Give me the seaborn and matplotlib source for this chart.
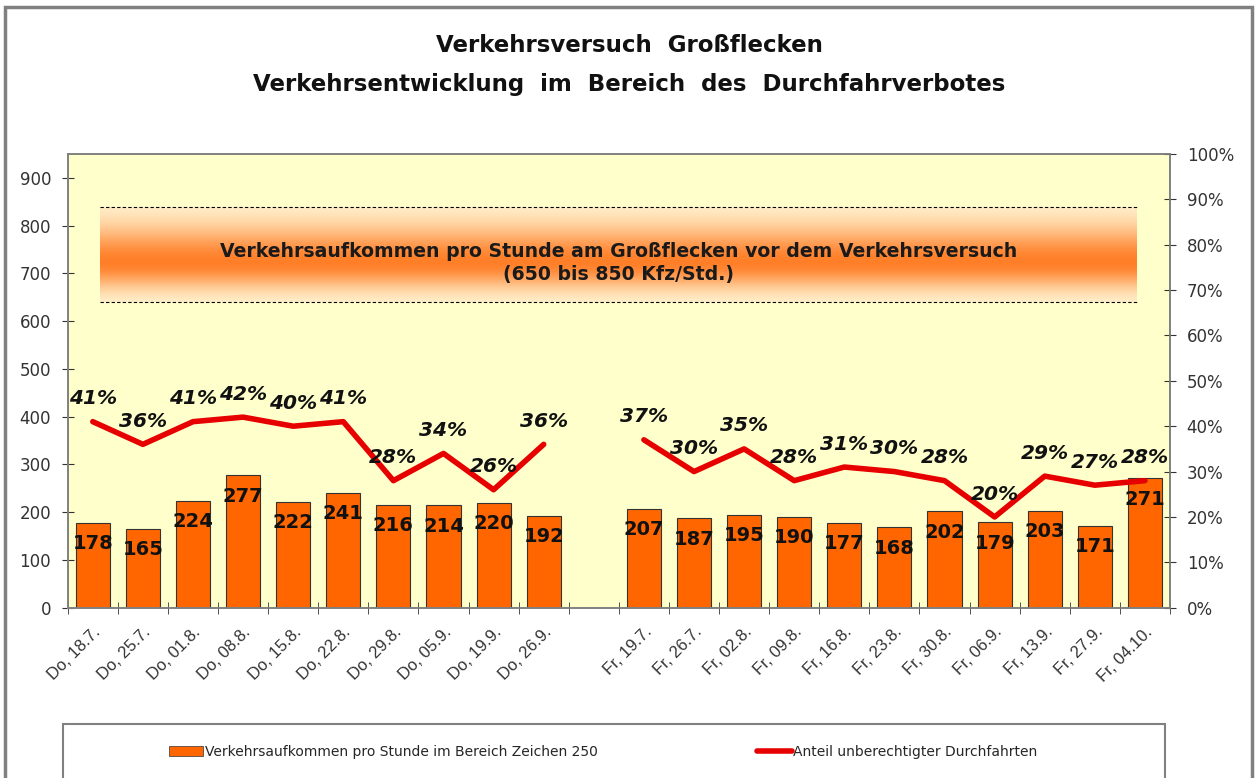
import numpy as np
import pandas as pd
import matplotlib
matplotlib.use("Agg")
import matplotlib.pyplot as plt
import seaborn as sns
from matplotlib.patches import Rectangle, Patch
from matplotlib.lines import Line2D
from matplotlib.ticker import PercentFormatter, FixedLocator, NullFormatter

# Donnerstage
dates_do = ["Do, 18.7.", "Do, 25.7.", "Do, 01.8.", "Do, 08.8.", "Do, 15.8.",
            "Do, 22.8.", "Do, 29.8.", "Do, 05.9.", "Do, 19.9.", "Do, 26.9."]
volume_do = [178, 165, 224, 277, 222, 241, 216, 214, 220, 192]
share_do = [41, 36, 41, 42, 40, 41, 28, 34, 26, 36]

# Freitage
dates_fr = ["Fr, 19.7.", "Fr, 26.7.", "Fr, 02.8.", "Fr, 09.8.", "Fr, 16.8.", "Fr, 23.8.",
            "Fr, 30.8.", "Fr, 06.9.", "Fr, 13.9.", "Fr, 27.9.", "Fr, 04.10."]
volume_fr = [207, 187, 195, 190, 177, 168, 202, 179, 203, 171, 271]
share_fr = [37, 30, 35, 28, 31, 30, 28, 20, 29, 27, 28]

# Band "vor dem Verkehrsversuch" (as drawn in the chart)
band_low, band_high, band_peak = 640, 838, 722

bar_label = "Verkehrsaufkommen pro Stunde im Bereich Zeichen 250"
line_label = "Anteil unberechtigter Durchfahrten"

ORANGE = "#FF6600"
RED = "#E60000"
BG = "#FFFFCC"
GREY = "#808080"

sns.set_style("white")
plt.rcParams['font.family'] = ['DejaVu Sans']

order = dates_do + [" "] + dates_fr
df = pd.DataFrame({"tag": dates_do + dates_fr, "kfz": volume_do + volume_fr})
pos = [order.index(t) for t in df["tag"]]
line_df = pd.DataFrame({
    "pos": pos,
    "anteil": [s / 100 for s in share_do + share_fr],
    "gruppe": ["Do"] * len(dates_do) + ["Fr"] * len(dates_fr),
})

fig = plt.figure(figsize=(12.59, 7.78), dpi=100)
ax = fig.add_axes([0.0538, 0.2189, 0.8755, 0.5832])
ax.set_facecolor(BG)

sns.barplot(data=df, x="tag", y="kfz", order=order, color=ORANGE, saturation=1,
            width=0.68, edgecolor="#333333", linewidth=0.8, ax=ax, zorder=2)

# gradient band
x0, x1 = 0.145, 20.84
v = np.linspace(band_low, band_high, 300)
sig = np.where(v > band_peak, 75, 52)
w = np.exp(-((v - band_peak) / sig) ** 2)
light = np.array([1.0, 0.97, 0.84])
orange = np.array([1.0, 0.5, 0.16])
img = light[None, :] * (1 - w[:, None]) + orange[None, :] * w[:, None]
img = np.repeat(img[:, None, :], 4, axis=1)
ax.imshow(img, extent=[x0, x1, band_low, band_high], origin="lower",
          aspect="auto", zorder=1, interpolation="bilinear")
ax.hlines([band_low, band_high], x0, x1, colors="black",
          linestyles=(0, (3, 2)), lw=0.8, zorder=3)
ax.text((x0 + x1) / 2, band_peak,
        "Verkehrsaufkommen pro Stunde am Großflecken vor dem Verkehrsversuch\n(650 bis 850 Kfz/Std.)",
        ha="center", va="center", multialignment="center", fontsize=13.6,
        fontweight="bold", color="#1a1a1a", linespacing=1.25, zorder=4)

for p, val in zip(pos, df["kfz"]):
    ax.annotate(str(val), (p, val), xytext=(0, -15), textcoords="offset points",
                ha="center", va="center", fontsize=14, fontweight="bold",
                color="#111111", zorder=5)

ax.set_xlim(-0.5, len(order) - 0.5)
ax.set_ylim(0, 950)
ax.set_yticks(range(0, 1000, 100))
ax.set_xticks(range(len(order)))
ax.set_xticklabels(order, rotation=45, ha="right", va="top",
                   rotation_mode="anchor", fontsize=12,
                   family=["Liberation Sans", "DejaVu Sans"], color="#333333")
ax.xaxis.set_minor_locator(FixedLocator(np.arange(-0.5, len(order), 1)))
ax.xaxis.set_minor_formatter(NullFormatter())
ax.tick_params(axis="x", which="major", length=0, pad=12)
ax.tick_params(axis="x", which="minor", direction="inout", length=8,
               color="#333333", bottom=True)
ax.tick_params(axis="y", direction="inout", length=8, color="#333333",
               labelsize=12, labelcolor="#333333", pad=8, left=True)
ax.set_xlabel("")
ax.set_ylabel("")

ax2 = ax.twinx()
sns.lineplot(data=line_df, x="pos", y="anteil", units="gruppe", estimator=None,
             color=RED, lw=4, ax=ax2, zorder=3)
for p, s in zip(line_df["pos"], share_do + share_fr):
    ax2.annotate(f"{s}%", (p, s / 100), xytext=(0, 16.5), textcoords="offset points",
                 ha="center", va="center", fontsize=14.5, fontweight="bold",
                 fontstyle="italic", color="#111111")
ax2.set_ylim(0, 1)
ax2.set_yticks(np.arange(0, 1.01, 0.1))
ax2.yaxis.set_major_formatter(PercentFormatter(1, decimals=0))
ax2.tick_params(axis="y", direction="inout", length=8, color="#333333",
                labelsize=12, labelcolor="#333333", pad=8, right=True)
ax2.set_xlabel("")
ax2.set_ylabel("")
ax.set_xlim(-0.5, len(order) - 0.5)

for a in (ax, ax2):
    for sp in a.spines.values():
        sp.set_color(GREY)
        sp.set_linewidth(1.2)

# titles
fig.text(0.4996, 0.942, "Verkehrsversuch  Großflecken", ha="center", va="center",
         fontsize=16.5, fontweight="bold", color="#111111")
fig.text(0.4996, 0.891, "Verkehrsentwicklung  im  Bereich  des  Durchfahrverbotes",
         ha="center", va="center", fontsize=16.5, fontweight="bold", color="#111111")

# outer frame and legend box (cut at the bottom like the original)
fig.add_artist(Rectangle((5 / 1259, -0.05), 1247 / 1259, 1.05 - 7 / 778,
                         transform=fig.transFigure, fill=False, ec=GREY, lw=2.5))
fig.add_artist(Rectangle((63 / 1259, -0.05), 1102 / 1259, 0.05 + 1 - 724 / 778,
                         transform=fig.transFigure, fill=False, ec=GREY, lw=1.5))

handles = [Patch(fc=ORANGE, ec="#333333", lw=0.5),
           Line2D([], [], color=RED, lw=4)]
fig.legend(handles, [bar_label, line_label], loc="center",
           bbox_to_anchor=(0.479, 0.0334), ncol=2, frameon=False, fontsize=10,
           handlelength=2.5, handletextpad=0.1, columnspacing=11.5)

fig.savefig("out.png", dpi=100, facecolor="white")
